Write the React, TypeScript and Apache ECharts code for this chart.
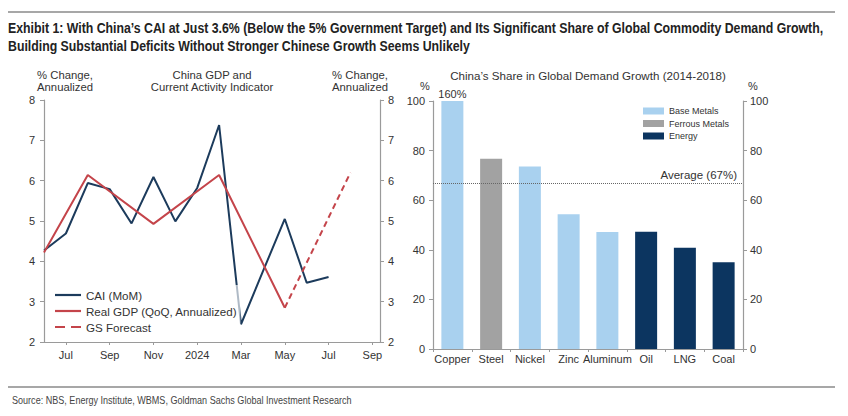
import React, { useEffect, useRef } from 'react';
import * as echarts from 'echarts';

// ---- Left chart data (x = months since Jun 2023) ----
const monthTickPositions = [1, 3, 5, 7, 9, 11, 13, 15];
const monthTickLabels = ['Jul', 'Sep', 'Nov', '2024', 'Mar', 'May', 'Jul', 'Sep'];
const caiMonths = [0, 1, 2, 3, 4, 5, 6, 7, 8, 9, 10, 11, 12, 13];
const caiValues = [4.27, 4.69, 5.94, 5.79, 4.94, 6.09, 4.99, 5.82, 7.38, 2.44, 3.75, 5.05, 3.47, 3.61];
const gdpMonths = [0, 2, 5, 8, 11];
const gdpValues = [4.22, 6.14, 4.93, 6.14, 2.85];
const forecastMonths = [11, 14];
const forecastValues = [2.85, 6.2];

// ---- Right chart data ----
const commodities = ['Copper', 'Steel', 'Nickel', 'Zinc', 'Aluminum', 'Oil', 'LNG', 'Coal'];
const commodityGroups = ['Base Metals', 'Ferrous Metals', 'Base Metals', 'Base Metals', 'Base Metals', 'Energy', 'Energy', 'Energy'];
const shareValues = [160, 76.7, 73.6, 54.3, 47.2, 47.3, 40.8, 35.0];
const groupNames = ['Base Metals', 'Ferrous Metals', 'Energy'];
const averageShare = 67;

const titleLines = [
  'Exhibit 1: With China\u2019s CAI at Just 3.6% (Below the 5% Government Target) and Its Significant Share of Global Commodity Demand Growth,',
  'Building Substantial Deficits Without Stronger Chinese Growth Seems Unlikely',
];
const sourceText = 'Source: NBS, Energy Institute, WBMS, Goldman Sachs Global Investment Research';

const NAVY = '#1c3b5c';
const RED = '#c4444a';
const GROUP_COLORS: Record<string, string> = {
  'Base Metals': '#a9d1ef',
  'Ferrous Metals': '#a2a2a2',
  'Energy': '#0c3560',
};
const AXIS = '#9a9a9a';
const TXT = '#333';
const FONT = '"Liberation Sans", Arial, sans-serif';

function measure(text: string, font: string): number {
  const ctx = document.createElement('canvas').getContext('2d');
  if (!ctx) return 1;
  ctx.font = font;
  return ctx.measureText(text).width || 1;
}

export default function App() {
  const ref = useRef<HTMLDivElement>(null);
  useEffect(() => {
    if (!ref.current) return;
    const chart = echarts.init(ref.current, undefined, { renderer: 'svg' });

    const titleFont = `bold 14px ${FONT}`;
    const titleScale = 816 / measure(titleLines[0], titleFont);
    const sourceFont = `10px ${FONT}`;
    const sourceScale = 340 / measure(sourceText, sourceFont);

    const barSeries = groupNames.map((g, gi) => {
      const s: any = {
        name: g,
        type: 'bar',
        xAxisIndex: 1,
        yAxisIndex: 2,
        barWidth: 22,
        barGap: '-100%',
        itemStyle: { color: GROUP_COLORS[g] },
        data: shareValues.map((v, i) => (commodityGroups[i] === g ? v : null)),
      };
      if (gi === 0) {
        const idx = 0;
        s.markPoint = {
          symbol: 'rect',
          symbolSize: 0,
          silent: true,
          data: [{ coord: [idx, 100], value: shareValues[idx] }],
          label: {
            show: true,
            position: 'top',
            distance: 2,
            formatter: (p: any) => `${p.value}%`,
            color: TXT,
            fontSize: 11,
            fontFamily: FONT,
          },
        };
        s.markLine = {
          symbol: ['none', 'none'],
          silent: true,
          data: [{ yAxis: averageShare }],
          lineStyle: { type: 'dotted', color: '#666', width: 1 },
          label: {
            show: true,
            position: 'insideEndTop',
            distance: [6, 2],
            formatter: `Average (${averageShare}%)`,
            color: TXT,
            fontSize: 11.5,
            fontFamily: FONT,
          },
        };
      }
      return s;
    });

    const yAxisCommon = (pos: 'left' | 'right', grid: number, min: number, max: number, interval: number, margin: number) => ({
      type: 'value',
      gridIndex: grid,
      position: pos,
      min,
      max,
      interval,
      splitLine: { show: false },
      axisLine: { show: true, lineStyle: { color: AXIS, width: 1.2 } },
      axisTick: { show: true, inside: false, length: 4, lineStyle: { color: AXIS } },
      axisLabel: { color: TXT, fontSize: 11, fontFamily: FONT, margin },
    });

    const solidIcon = 'rect';
    const dashIcon = 'path://M0,0H10V2H0Z M16,0H26V2H16Z';

    const option: any = {
      animation: false,
      backgroundColor: '#fff',
      grid: [
        { left: 44, top: 100, width: 336, height: 242 },
        { left: 433, top: 101, width: 310, height: 248 },
      ],
      xAxis: [
        {
          type: 'value',
          gridIndex: 0,
          min: 0,
          max: 15.35,
          splitLine: { show: false },
          axisLine: { show: true, lineStyle: { color: AXIS, width: 1.2 } },
          axisTick: { show: true, length: 3, customValues: monthTickPositions, lineStyle: { color: AXIS } },
          axisLabel: {
            customValues: monthTickPositions,
            formatter: (v: number) => monthTickLabels[monthTickPositions.indexOf(v)] ?? '',
            color: TXT,
            fontSize: 11,
            fontFamily: FONT,
            margin: 7,
          },
        },
        {
          type: 'category',
          gridIndex: 1,
          data: commodities,
          axisLine: { show: true, lineStyle: { color: AXIS, width: 1.2 } },
          axisTick: { show: true, length: 3, lineStyle: { color: AXIS } },
          axisLabel: { interval: 0, color: TXT, fontSize: 11, fontFamily: FONT, margin: 4 },
        },
      ],
      yAxis: [
        yAxisCommon('left', 0, 2, 8, 1, 9),
        yAxisCommon('right', 0, 2, 8, 1, 8),
        yAxisCommon('left', 1, 0, 100, 20, 8),
        yAxisCommon('right', 1, 0, 100, 20, 7),
      ],
      legend: [
        {
          data: [
            { name: 'CAI (MoM)', icon: solidIcon },
            { name: 'Real GDP (QoQ, Annualized)', icon: solidIcon },
            { name: 'GS Forecast', icon: dashIcon },
          ],
          orient: 'vertical',
          left: 49,
          top: 285,
          padding: [3, 3, 3, 6],
          backgroundColor: 'rgba(255,255,255,0.65)',
          itemWidth: 26,
          itemHeight: 2.2,
          itemGap: 2,
          textStyle: { color: TXT, fontSize: 11.6, lineHeight: 14, fontFamily: FONT },
        },
        {
          data: groupNames,
          orient: 'vertical',
          left: 643,
          top: 105,
          padding: 0,
          itemWidth: 21,
          itemHeight: 7,
          itemGap: 0.5,
          icon: 'rect',
          textStyle: { color: TXT, fontSize: 9, lineHeight: 12, fontFamily: FONT },
        },
      ],
      series: [
        {
          name: 'CAI (MoM)',
          type: 'line',
          xAxisIndex: 0,
          yAxisIndex: 0,
          symbol: 'none',
          lineStyle: { color: NAVY, width: 2 },
          itemStyle: { color: NAVY },
          data: caiMonths.map((m, i) => [m, caiValues[i]]),
        },
        {
          name: 'Real GDP (QoQ, Annualized)',
          type: 'line',
          xAxisIndex: 0,
          yAxisIndex: 0,
          symbol: 'none',
          lineStyle: { color: RED, width: 2 },
          itemStyle: { color: RED },
          data: gdpMonths.map((m, i) => [m, gdpValues[i]]),
        },
        {
          name: 'GS Forecast',
          type: 'line',
          xAxisIndex: 0,
          yAxisIndex: 0,
          symbol: 'none',
          lineStyle: { color: RED, width: 2, type: [6, 4] },
          itemStyle: { color: RED },
          data: forecastMonths.map((m, i) => [m, forecastValues[i]]),
        },
        ...barSeries,
      ],
      graphic: [
        { type: 'line', shape: { x1: 8, y1: 12, x2: 835, y2: 12 }, style: { stroke: '#8a8a8a', lineWidth: 1.5 } },
        { type: 'line', shape: { x1: 8, y1: 387, x2: 835, y2: 387 }, style: { stroke: '#8a8a8a', lineWidth: 1.5 } },
        ...titleLines.map((t, i) => ({
          type: 'text', x: 8, y: 28 + i * 18, scaleX: titleScale,
          style: { text: t, font: titleFont, fill: '#222', verticalAlign: 'middle', align: 'left' },
        })),
        {
          type: 'text', x: 12, y: 400, scaleX: sourceScale,
          style: { text: sourceText, font: sourceFont, fill: '#444', verticalAlign: 'middle' },
        },
        {
          type: 'text', x: 65, y: 81,
          style: { text: '% Change,\nAnnualized', font: `11.3px ${FONT}`, fill: TXT, align: 'center', verticalAlign: 'middle', lineHeight: 12 },
        },
        {
          type: 'text', x: 212, y: 81,
          style: { text: 'China GDP and\nCurrent Activity Indicator', font: `11.3px ${FONT}`, fill: TXT, align: 'center', verticalAlign: 'middle', lineHeight: 12 },
        },
        {
          type: 'text', x: 360, y: 81,
          style: { text: '% Change,\nAnnualized', font: `11.3px ${FONT}`, fill: TXT, align: 'center', verticalAlign: 'middle', lineHeight: 12 },
        },
        {
          type: 'text', x: 588, y: 75,
          style: { text: 'China\u2019s Share in Global Demand Growth (2014-2018)', font: `11.6px ${FONT}`, fill: TXT, align: 'center', verticalAlign: 'middle' },
        },
        {
          type: 'text', x: 425, y: 86,
          style: { text: '%', font: `11px ${FONT}`, fill: TXT, align: 'center', verticalAlign: 'middle' },
        },
        {
          type: 'text', x: 753, y: 86,
          style: { text: '%', font: `11px ${FONT}`, fill: TXT, align: 'center', verticalAlign: 'middle' },
        },
      ],
    };
    chart.setOption(option);
    return () => chart.dispose();
  }, []);
  return (
    <div
      ref={ref}
      style={{ position: 'absolute', left: 0, top: 0, width: 848, height: 416, background: '#fff' }}
    />
  );
}
